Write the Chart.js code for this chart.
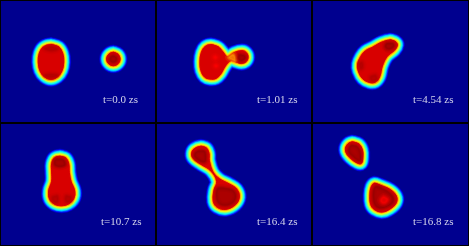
<!DOCTYPE html>
<html lang="en">
<head>
<meta charset="UTF-8">
<title>Density snapshots</title>
<style>
  html, body { margin: 0; padding: 0; background: #000; overflow: hidden; }
  #grid { position: relative; width: 469px; height: 246px; background: #000; }
  .panel { position: absolute; background: #00008f; overflow: hidden; }
  .panel canvas { position: absolute; filter: blur(0.7px); }
</style>
<script src="https://cdn.jsdelivr.net/npm/chart.js"></script>
</head>
<body>
<div id="grid"></div>
<script>
// time labels, one per panel
const timeLabels = ['t=0.0 zs', 't=1.01 zs', 't=4.54 zs', 't=10.7 zs', 't=16.4 zs', 't=16.8 zs'];

// red core outlines (x, y in a 471 x 372 panel frame)
const coreA1 = [[153,134],[176,141],[188,160],[191,186],[186,212],[173,230],[153,238],[133,230],[120,212],[115,186],[118,160],[130,141]];
const coreA2 = [[340,157],[354,163],[360,177],[354,191],[340,197],[326,191],[320,177],[326,163]];
const coreB = [[165,134],[187,141],[201,156],[214,170],[234,158],[258,152],[271,158],[276,172],[270,185],[256,190],[240,186],[224,182],[208,198],[194,222],[180,235],[162,237],[146,231],[135,212],[132,185],[136,158],[147,140]];
const coreC = [[234,120],[250,125],[256,135],[248,150],[225,170],[211,198],[203,230],[190,246],[172,247],[152,236],[139,213],[137,192],[146,170],[160,153],[183,141],[208,127]];
const coreD = [[180,103],[197,108],[206,125],[208,152],[213,178],[224,207],[221,230],[205,246],[185,251],[165,247],[149,232],[146,207],[155,178],[155,150],[155,125],[163,108]];
const coreE = [[135,73],[151,78],[159,94],[160,116],[171,150],[190,170],[220,186],[242,201],[250,225],[238,248],[210,262],[184,256],[172,238],[174,205],[182,178],[165,147],[135,127],[112,110],[107,95],[114,81]];
const coreF1 = [[120,60],[140,66],[151,84],[152,108],[148,124],[136,123],[114,107],[101,88],[104,70]];
const coreF2 = [[187,184],[203,189],[235,203],[253,222],[253,242],[234,261],[210,270],[188,263],[176,247],[174,216],[178,194]];

// darker patches inside the cores
const darkA2 = [[340,167],[349,172],[349,182],[340,187],[331,182],[331,172]];
const darkB = [[250,164],[264,166],[268,174],[258,182],[248,178]];
const darkC = [[224,130],[242,130],[246,139],[232,148],[220,142]];
const darkD = [[167,112],[188,112],[196,128],[180,134],[164,128]];
const darkE1 = [[125,87],[145,87],[150,105],[146,120],[125,113],[115,100]];
const darkE2 = [[187,198],[228,203],[240,225],[223,247],[192,247],[181,225]];
const darkF1 = [[118,70],[136,74],[145,92],[144,116],[125,106],[110,88]];
const darkF2 = [[192,193],[230,210],[245,235],[223,255],[194,255],[183,225]];

// barely darker patches
const faintA1 = [[135,146],[153,140],[172,148],[153,152]];
const faintA1b = [[135,226],[153,222],[172,226],[153,232]];
const faintC = [[176,230],[190,226],[194,238],[180,242]];
const faintC2 = [[143,190],[150,188],[152,202],[146,206]];
const faintD = [[158,225],[172,222],[172,240],[160,238]];
const faintD2 = [[198,222],[212,225],[210,238],[198,238]];

// brighter spots
const brightB1 = [[178,169],[182,172],[178,176],[174,172]];
const brightB2 = [[180,194],[184,197],[180,201],[176,197]];
const brightF2 = [[215,224],[227,232],[217,244],[206,236]];

// neck of the second panel stays orange rather than red
const neckB = [[218,172],[232,164],[238,182],[226,178]];

// jet ramp, outermost fringe first
const bandColors = ['#0000c0','#0010ff','#0060ff','#00b0ff','#00f0ff','#30ffd0','#70ff90','#b0ff50','#f0ff10','#ffd000','#ff9000','#ff4000'];
const bandStep = 1.25;
const coreRed = '#d80000';
const darkRed = '#8f0000';
const faintRed = '#b00000';

const panels = [
  { cores: [coreA1, coreA2], dark: [darkA2], faint: [faintA1, faintA1b], bright: [], necks: [] },
  { cores: [coreB], dark: [darkB], faint: [], bright: [brightB1, brightB2], necks: [neckB] },
  { cores: [coreC], dark: [darkC], faint: [faintC, faintC2], bright: [], necks: [] },
  { cores: [coreD], dark: [darkD], faint: [faintD, faintD2], bright: [], necks: [] },
  { cores: [coreE], dark: [darkE1, darkE2], faint: [], bright: [], necks: [] },
  { cores: [coreF1, coreF2], dark: [darkF1, darkF2], faint: [], bright: [brightF2], necks: [] }
];

function toPoints(outline) {
  // first two points again so the smoothed curve closes without a kink
  return outline.concat(outline.slice(0, 2)).map(p => ({ x: p[0], y: p[1] }));
}

function outlineSet(outline, color, width, fill) {
  return {
    data: toPoints(outline),
    showLine: true,
    pointRadius: 0,
    tension: 0.4,
    borderColor: color,
    borderWidth: width,
    borderJoinStyle: 'round',
    borderCapStyle: 'round',
    backgroundColor: color,
    fill: fill ? 'shape' : false
  };
}

function softPatch(outline, color) {
  return [
    outlineSet(outline, color + '28', 7, true),
    outlineSet(outline, color + '40', 4, true),
    outlineSet(outline, color + '60', 2, true)
  ];
}

function buildDatasets(panel) {
  const sets = [];
  panel.cores.forEach(core => {
    bandColors.forEach((c, i) => {
      sets.push(outlineSet(core, c, (bandColors.length - i) * bandStep, false));
    });
  });
  panel.cores.forEach(core => sets.push(outlineSet(core, coreRed, 1, true)));
  panel.necks.forEach(n => sets.push(...softPatch(n, '#ffa000')));
  panel.faint.forEach(f => sets.push(...softPatch(f, faintRed)));
  panel.dark.forEach(d => sets.push(...softPatch(d, darkRed)));
  panel.bright.forEach(b => sets.push(...softPatch(b, '#ff0000')));
  // chart.js paints the first dataset last, so flip to get bottom-up order
  return sets.reverse();
}

const timeLabelPlugin = {
  id: 'timeLabel',
  afterDraw(chart, args, opts) {
    const ctx = chart.ctx;
    ctx.save();
    ctx.font = '11px "Liberation Serif"';
    ctx.fillStyle = '#d4d4ec';
    ctx.textAlign = 'left';
    ctx.textBaseline = 'alphabetic';
    ctx.fillText(opts.text, opts.x, opts.y);
    ctx.restore();
  }
};

const grid = document.getElementById('grid');
const colX = [1, 157, 313];
const colW = [154, 154, 155];
const rowY = [1, 124];
const rowH = [121, 121];

panels.forEach((panel, idx) => {
  const col = idx % 3;
  const row = Math.floor(idx / 3);
  const box = document.createElement('div');
  box.className = 'panel';
  box.style.cssText = `left:${colX[col]}px;top:${rowY[row]}px;width:${colW[col]}px;height:${rowH[row]}px`;
  const canvas = document.createElement('canvas');
  box.appendChild(canvas);
  grid.appendChild(box);

  // the canvas spans the whole 157x124 cell, clipped by the box
  canvas.style.left = (col * 156 - colX[col]) + 'px';
  canvas.style.top = (row * 122 - rowY[row]) + 'px';
  canvas.width = 157;
  canvas.height = 124;

  new Chart(canvas, {
    type: 'scatter',
    data: { datasets: buildDatasets(panel) },
    plugins: [timeLabelPlugin],
    options: {
      responsive: false,
      animation: false,
      layout: { padding: 0 },
      scales: {
        x: { type: 'linear', min: 0, max: 471, display: false },
        y: { type: 'linear', min: 0, max: 372, reverse: true, display: false }
      },
      plugins: {
        legend: { display: false },
        tooltip: { enabled: false },
        timeLabel: { text: timeLabels[idx], x: idx === 0 ? 103 : 101, y: 103 }
      }
    }
  });
});
</script>
</body>
</html>
